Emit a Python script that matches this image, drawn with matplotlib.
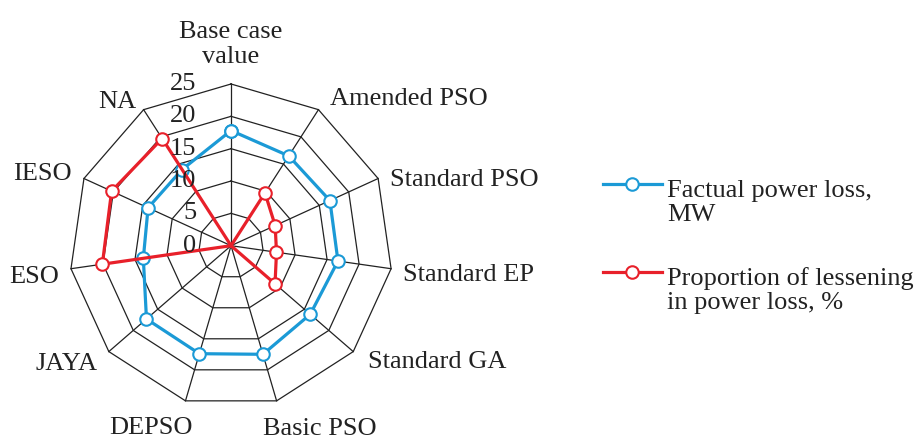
import numpy as np
import matplotlib
matplotlib.use('Agg')
import matplotlib.pyplot as plt

plt.rcParams['font.family'] = ['Liberation Serif', 'DejaVu Serif']

categories = ['Base case\nvalue', 'Amended PSO', 'Standard PSO', 'Standard EP',
              'Standard GA', 'Basic PSO', 'DEPSO', 'JAYA', 'ESO', 'IESO', 'NA']
power_loss = [17.8, 16.5, 16.8, 16.7, 16.2, 17.5, 17.4, 17.3, 13.7, 14.1, 14.0]
lessening = [0, 9.7, 7.5, 7.1, 9.0, 0, 0, 0, 20.1, 20.3, 19.7]
rings = [5, 10, 15, 20, 25]
tick_labels = [0, 5, 10, 15, 20, 25]

blue = '#1b9ad6'
red = '#e8202a'
fs = 19

n = len(categories)
angles = np.linspace(0, 2 * np.pi, n, endpoint=False)
closed = np.append(angles, angles[0])

fig = plt.figure(figsize=(9.17, 4.39), dpi=100)
ax = fig.add_axes([0.0756, 0.0697, 0.3527, 0.7367], projection='polar')
ax.set_theta_zero_location('N')
ax.set_theta_direction(-1)
ax.set_ylim(0, 25)
ax.grid(False)
ax.spines['polar'].set_visible(False)
ax.set_xticks([])
ax.set_yticks([])
ax.patch.set_alpha(0)

# polygon grid
for r in rings:
    ax.plot(closed, [r] * (n + 1), color='#222222', lw=0.9, zorder=1, clip_on=False)
for a in angles:
    ax.plot([a, a], [0, 25], color='#222222', lw=0.9, zorder=1, clip_on=False)

# series
ax.plot(closed, np.append(power_loss, power_loss[0]), color=blue, lw=2.3,
        marker='o', ms=9, mfc='white', mec=blue, mew=1.5, zorder=3, clip_on=False)
ax.plot(closed, np.append(lessening, lessening[0]), color=red, lw=2.3,
        zorder=3, clip_on=False)
nz = [i for i, v in enumerate(lessening) if v > 0]
ax.plot(angles[nz], np.array(lessening)[nz], ls='none', marker='o', ms=9,
        mfc='white', mec=red, mew=1.5, zorder=4, clip_on=False)

# radial tick labels
for v in tick_labels:
    ax.annotate(str(v), xy=(0, v), xytext=(-35, 1), textcoords='offset pixels',
                ha='right', va='center', fontsize=fs, color='#222222')

# category labels (offsets in pixels from the outer vertex)
offsets = [(0, 22, 'center'), (12, 6, 'left'), (12, -6, 'left'), (12, -11, 'left'),
           (15, -15, 'left'), (-14, -33, 'left'), (7, -32, 'right'), (-11, -17, 'right'),
           (-12, -13, 'right'), (-12, 0, 'right'), (-7, 3, 'right')]
for a, lab, (dx, dy, ha) in zip(angles, categories, offsets):
    ax.annotate(lab, xy=(a, 25), xytext=(dx, dy), textcoords='offset pixels',
                ha=ha, va='baseline', fontsize=fs, color='#222222',
                multialignment='center', annotation_clip=False)

# legend
lg = fig.add_axes([0, 0, 1, 1])
lg.set_xlim(0, 917)
lg.set_ylim(439, 0)
lg.axis('off')
entries = [(blue, 185, 'Factual power loss,\nMW'),
           (red, 273, 'Proportion of lessening\nin power loss, %')]
for c, y, txt in entries:
    lg.plot([603, 662], [y, y], color=c, lw=2.3)
    lg.plot([632], [y], marker='o', ms=9, mfc='white', mec=c, mew=1.5)
    lg.text(667, y + 36, txt, ha='left', va='baseline', fontsize=fs,
            color='#222222', linespacing=1.1)

fig.savefig('out.png', dpi=100)
